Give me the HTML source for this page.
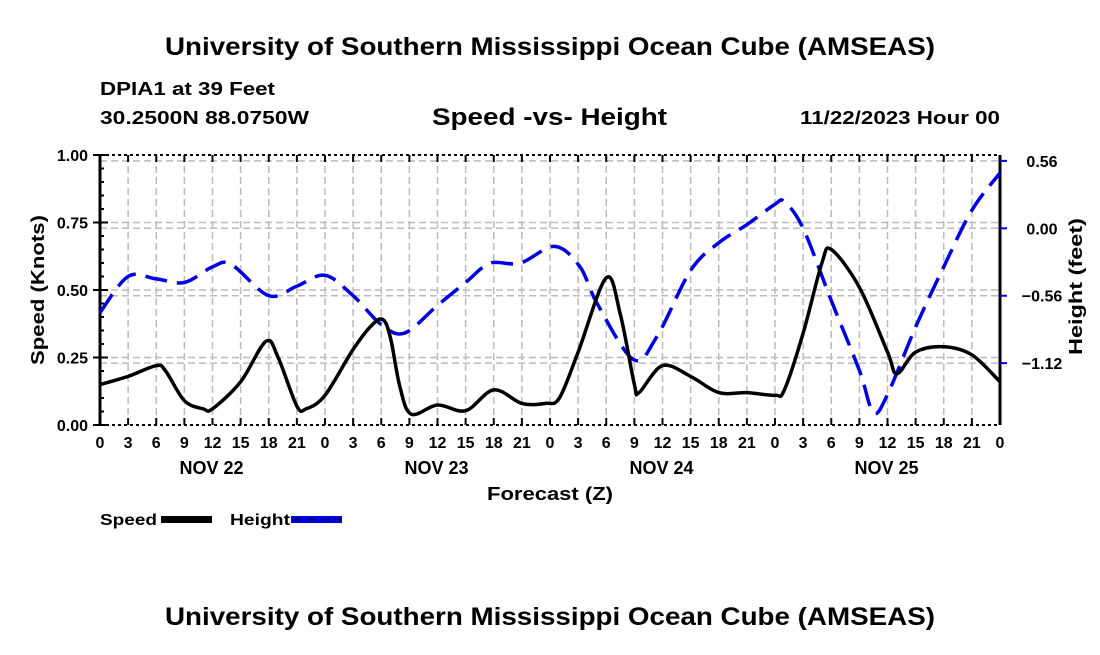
<!DOCTYPE html>
<html><head><meta charset="utf-8"><style>
body{margin:0;background:#fff;width:1100px;height:650px;overflow:hidden}
svg text{font-family:"Liberation Sans",sans-serif;font-weight:bold;fill:#000}
</style></head><body>
<svg id="c" width="1100" height="650">
<text x="165" y="55" font-size="25" textLength="770" lengthAdjust="spacingAndGlyphs">University of Southern Mississippi Ocean Cube (AMSEAS)</text>
<text x="100" y="95" font-size="18" textLength="175" lengthAdjust="spacingAndGlyphs">DPIA1 at 39 Feet</text>
<text x="100" y="124" font-size="18" textLength="209" lengthAdjust="spacingAndGlyphs">30.2500N  88.0750W</text>
<text x="432" y="125" font-size="24" textLength="235" lengthAdjust="spacingAndGlyphs">Speed -vs- Height</text>
<text x="800" y="124" font-size="18" textLength="200" lengthAdjust="spacingAndGlyphs">11/22/2023 Hour 00</text>
<text x="165" y="625" font-size="25" textLength="770" lengthAdjust="spacingAndGlyphs">University of Southern Mississippi Ocean Cube (AMSEAS)</text>
<g id="grid"></g><g id="axes"></g><g id="series"></g>
<text x="487" y="500" font-size="18" textLength="126" lengthAdjust="spacingAndGlyphs">Forecast (Z)</text>
<text transform="translate(44,365) rotate(-90)" font-size="18" textLength="150" lengthAdjust="spacingAndGlyphs">Speed (Knots)</text>
<text transform="translate(1082,355) rotate(-90)" font-size="18" textLength="137" lengthAdjust="spacingAndGlyphs">Height (feet)</text>
<g>
<text x="100" y="525" font-size="16" textLength="57" lengthAdjust="spacingAndGlyphs">Speed</text>
<rect x="161" y="516" width="51" height="7" fill="#000"/>
<text x="230" y="525" font-size="16" textLength="60" lengthAdjust="spacingAndGlyphs">Height</text>
<rect x="291" y="516" width="51" height="7" fill="#0000e0"/>
<line x1="293" y1="519.5" x2="341" y2="519.5" stroke="#000060" stroke-width="1.5" stroke-dasharray="9,5"/>
</g>
</svg>
<script>
const speedHours=[0,3,6,7,9,11,12,15,17.7,19,21,22,24,27,29,30.2,31,32,33.2,36,39,42,45,47.5,49,51,54,55.5,57,57.5,60,63,66,69,72,73,75,77,78,81,84,85,87,90,93,96];
const speedVals=[0.15,0.18,0.22,0.2,0.09,0.06,0.06,0.16,0.31,0.25,0.07,0.06,0.11,0.28,0.37,0.39,0.32,0.14,0.04,0.074,0.053,0.13,0.08,0.08,0.1,0.27,0.545,0.41,0.15,0.12,0.22,0.18,0.12,0.12,0.11,0.13,0.34,0.6,0.65,0.51,0.27,0.19,0.27,0.29,0.26,0.16];
const heightHours=[0,3,6,9,12,14,18,21,24,27,30,32.5,36,39,41.6,44.8,48.5,51.2,53,56.9,59.4,63,66,69,72,73,75,78,81,82.5,84,87,90,93,96];
const heightVals=[-0.7,-0.4,-0.42,-0.45,-0.32,-0.3,-0.56,-0.48,-0.39,-0.56,-0.8,-0.87,-0.64,-0.45,-0.29,-0.29,-0.15,-0.32,-0.62,-1.09,-0.9,-0.35,-0.12,0.03,0.2,0.22,0.0,-0.6,-1.18,-1.53,-1.38,-0.82,-0.32,0.15,0.46];
const speedTicks=[0,0.25,0.5,0.75,1.0];
const speedTickLabels=["0.00","0.25","0.50","0.75","1.00"];
const heightTicks=[0.56,0,-0.56,-1.12];
const heightTickLabels=["0.56","0.00","\u22120.56","\u22121.12"];
const dayLabels=["NOV 22","NOV 23","NOV 24","NOV 25"];
const L=100,R=1000,T=155,B=425;
const X=h=>L+h*(R-L)/96;
const YS=v=>B-v*(B-T);
const YH=h=>228.3-h*120.4;
const NS='http://www.w3.org/2000/svg';
function mk(tag,attrs,parent,txt){const e=document.createElementNS(NS,tag);for(const k in attrs)e.setAttribute(k,attrs[k]);if(txt!==undefined)e.textContent=txt;document.getElementById(parent).appendChild(e);return e;}
for(let h=3;h<96;h+=3){const e=mk('line',{x1:X(h),x2:X(h),y1:T,y2:B,stroke:'#bbb','stroke-width':1.5,'stroke-dasharray':'7,4'},'grid');

}
speedTicks.forEach(v=>{if(v>0&&v<1){const e=mk('line',{x1:L,x2:R,y1:YS(v),y2:YS(v),stroke:'#bbb','stroke-width':1.5,'stroke-dasharray':'7,4'},'grid');

}});
heightTicks.forEach(v=>{const e=mk('line',{x1:L,x2:R,y1:YH(v),y2:YH(v),stroke:'#bbb','stroke-width':1.5,'stroke-dasharray':'7,4'},'grid');

});
[[L,T,L,B],[R,T,R,B]].forEach(a=>{const e=mk('line',{x1:a[0],y1:a[1],x2:a[2],y2:a[3],stroke:'#000','stroke-width':3},'axes');

});
[T,B].forEach(y=>{const e=mk('line',{x1:L,x2:R,y1:y,y2:y,stroke:'#000','stroke-width':2,'stroke-dasharray':'3,3'},'axes');

});
for(let h=0;h<=96;h+=3){
 mk('line',{x1:X(h),x2:X(h),y1:B,y2:B-7,stroke:'#000','stroke-width':2},'axes');
 mk('line',{x1:X(h),x2:X(h),y1:T,y2:T+7,stroke:'#000','stroke-width':2},'axes');
 const t=mk('text',{x:X(h),y:B+23,'text-anchor':'middle','font-size':16},'axes',String(h%24));
 
 
}
dayLabels.forEach((d,i)=>{const t=mk('text',{x:X(12+24*i)-1,y:B+49,'text-anchor':'middle','font-size':18},'axes',d);

});
for(let v=0;v<=1.0001;v+=0.05){mk('line',{x1:L,x2:L+(Math.round(v*100)%25==0?8:4),y1:YS(v),y2:YS(v),stroke:'#000','stroke-width':2},'axes');}
speedTicks.forEach((v,i)=>{mk('line',{x1:L-7,x2:L,y1:YS(v),y2:YS(v),stroke:'#000','stroke-width':2},'axes');
const t=mk('text',{x:L-12,y:YS(v)+6,'text-anchor':'end','font-size':16},'axes',speedTickLabels[i]);

});
heightTicks.forEach((v,i)=>{mk('line',{x1:R,x2:R+7,y1:YH(v),y2:YH(v),stroke:'#0000e0','stroke-width':2},'axes');
const t=mk('text',{x:R+42,y:YH(v)+6,'text-anchor':'middle','font-size':16},'axes',heightTickLabels[i]);

});
function smooth(xs,ys){const p=xs.map((x,i)=>[X(x),ys[i]]);let d='M'+p[0][0]+','+p[0][1];
for(let i=0;i<p.length-1;i++){const p0=p[i-1]||p[i],p1=p[i],p2=p[i+1],p3=p[i+2]||p[i+1];
d+=' C'+(p1[0]+(p2[0]-p0[0])/6)+','+(p1[1]+(p2[1]-p0[1])/6)+' '+(p2[0]-(p3[0]-p1[0])/6)+','+(p2[1]-(p3[1]-p1[1])/6)+' '+p2[0]+','+p2[1];}return d;}
const hp=mk('path',{d:smooth(heightHours,heightVals.map(YH)),fill:'none',stroke:'#0000e0','stroke-width':3.5,'stroke-dasharray':'22,10'},'series');


const sp=mk('path',{d:smooth(speedHours,speedVals.map(YS)),fill:'none',stroke:'#000','stroke-width':3.5},'series');


</script>
</body></html>
